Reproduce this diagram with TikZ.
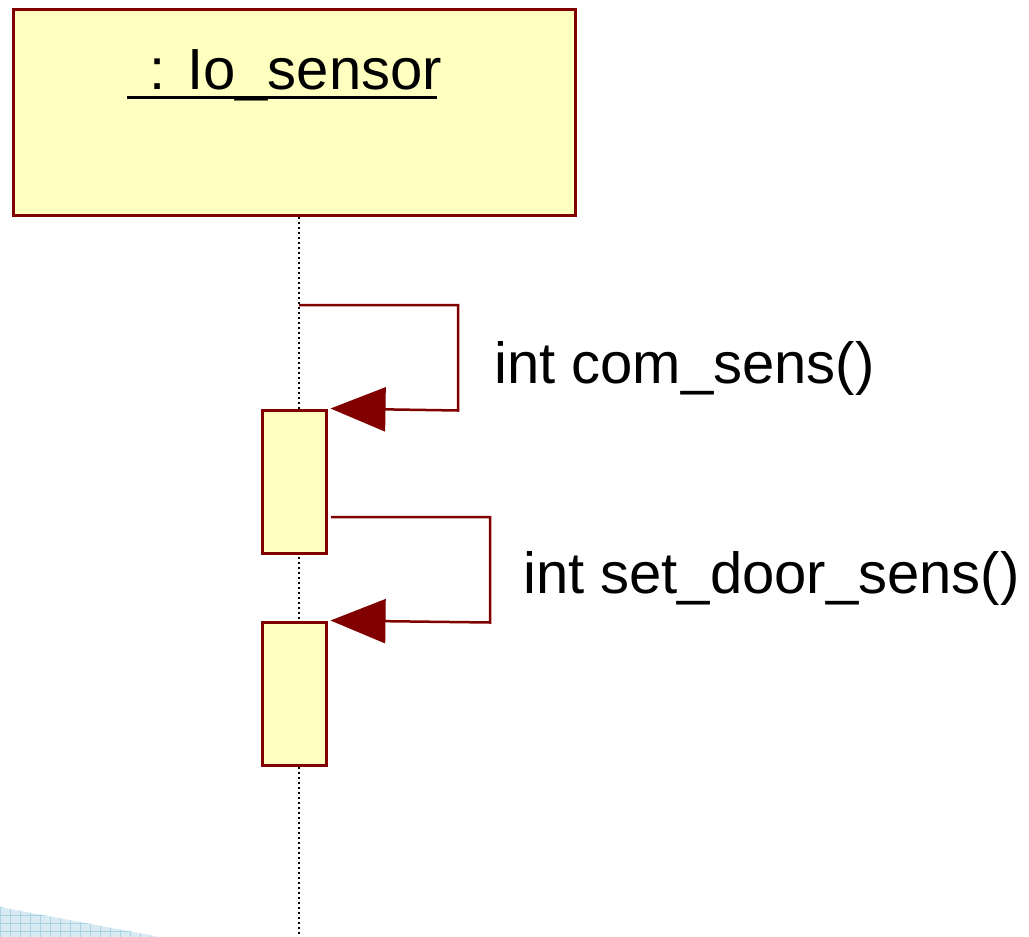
\documentclass[tikz,border=0pt]{standalone}
\usepackage{fontspec}
\setmainfont{Liberation Sans}
\usetikzlibrary{arrows.meta,patterns}
\definecolor{umlred}{HTML}{800000}
\definecolor{umlfill}{HTML}{FFFFC0}
\definecolor{bgblue}{HTML}{D8EBF3}
\definecolor{gridblue}{HTML}{A9D2E3}
\tikzset{
  objbox/.style={draw=umlred, fill=umlfill, line width=3pt, rectangle, inner sep=0pt},
  actbox/.style={draw=umlred, fill=umlfill, line width=3pt, rectangle, inner sep=0pt, minimum width=64pt, minimum height=143pt},
  lifeline/.style={line width=2.5pt, dash pattern=on 2.5pt off 2.5pt},
  msg/.style={draw=umlred, line width=2.5pt, -{Triangle[length=55pt,width=44pt]}},
  lbl/.style={inner sep=0pt, font=\fontsize{58}{68}\selectfont, anchor=base west}
}
\begin{document}
\begin{tikzpicture}[x=1pt,y=-1pt]
\useasboundingbox (0,0) rectangle (1029,937);
% background fragment
\fill[bgblue] (0,907) -- (160,937) -- (0,937) -- cycle;
\begin{scope}
\clip (0,907) -- (160,937) -- (0,937) -- cycle;
\foreach \x in {0,10,...,160} \draw[gridblue,line width=0.8pt] (\x,900) -- (\x,937);
\foreach \y in {907,915,...,937} \draw[gridblue,line width=0.8pt] (0,\y) -- (160,\y);
\end{scope}
% object
\node[objbox, minimum width=562pt, minimum height=206pt] (obj) at (294,112) {};
\node[lbl] (hdr) at (127,89) {\hspace{22pt}:\hspace{22pt}Io\_sensor};
\draw[line width=3pt] (127,97) -- (437,97);
% lifeline
\coordinate (llend) at (299,937);
\draw[lifeline] (obj.south -| 299,0) -- (llend);
% activations
\node[actbox] (a1) at (294,481.5) {};
\node[actbox] (a2) at (294,693.5) {};
% messages
\coordinate (m1s) at (299,305);
\coordinate (m2s) at (331,517);
\draw[msg] (m1s) -- (458,305) -- (458,410.5) -- ([xshift=3pt]a1.north east);
\draw[msg] (m2s) -- (490,517) -- (490,622.5) -- ([xshift=3pt]a2.north east);
\node[lbl] (l1) at (494,383) {int com\_sens()};
\node[lbl] (l2) at (523,593) {int set\_door\_sens()};
\end{tikzpicture}
\end{document}
